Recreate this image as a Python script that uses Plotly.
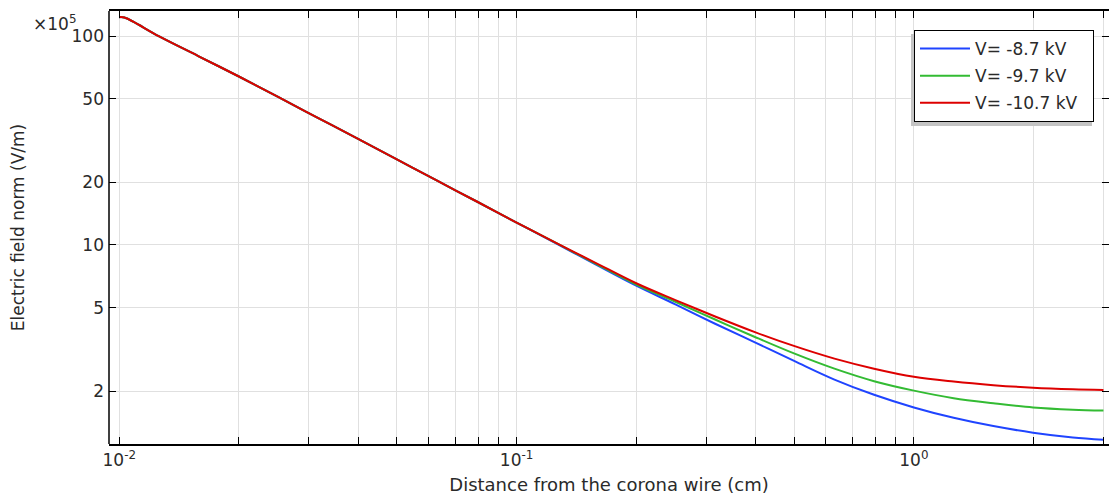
import plotly.graph_objects as go

# distance from the corona wire (cm)
distance_cm = [0.0100, 0.0103, 0.0126, 0.0158, 0.0200, 0.0251, 0.0316, 0.0398, 0.0501, 0.0631,
               0.0794, 0.100, 0.126, 0.158, 0.200, 0.251, 0.316, 0.398, 0.501, 0.631,
               0.794, 1.00, 1.259, 1.585, 1.995, 2.512, 3.00]

# electric field norm (x1e5 V/m)
e_87 = [123, 122.5, 99.6, 80.2, 64.0, 51.1, 40.6, 32.3, 25.6, 20.3,
        16.15, 12.8, 10.16, 8.08, 6.39, 5.20, 4.20, 3.42, 2.78, 2.27,
        1.92, 1.67, 1.49, 1.36, 1.265, 1.20, 1.17]
e_97 = [123, 122.5, 99.6, 80.2, 64.0, 51.1, 40.6, 32.3, 25.6, 20.3,
        16.15, 12.8, 10.2, 8.15, 6.47, 5.35, 4.40, 3.63, 3.02, 2.56,
        2.23, 2.01, 1.85, 1.75, 1.67, 1.63, 1.615]
e_107 = [123, 122.5, 99.6, 80.2, 64.0, 51.1, 40.6, 32.3, 25.6, 20.3,
         16.15, 12.8, 10.22, 8.22, 6.56, 5.45, 4.55, 3.83, 3.28, 2.86,
         2.56, 2.34, 2.22, 2.135, 2.075, 2.04, 2.025]

series_names = ["V= -8.7 kV", "V= -9.7 kV", "V= -10.7 kV"]
series_values = [e_87, e_97, e_107]
series_colors = ["#1f44ff", "#33bb33", "#dd0000"]

x_tickvals = [0.01, 0.02, 0.03, 0.04, 0.05, 0.06, 0.07, 0.08, 0.09,
              0.1, 0.2, 0.3, 0.4, 0.5, 0.6, 0.7, 0.8, 0.9, 1, 2, 3]
x_ticktext = ["10<sup>-2</sup>"] + [""] * 8 + ["10<sup>-1</sup>"] + [""] * 8 + ["10<sup>0</sup>", "", ""]
y_tickvals = [2, 5, 10, 20, 50, 100]
y_ticktext = ["2", "5", "10", "20", "50", "100"]

FONT = "DejaVu Sans"
TXT = "#2a2a2a"
fig = go.Figure()
for i, (name, vals, col) in enumerate(zip(series_names, series_values, series_colors)):
    fig.add_trace(go.Scatter(
        x=distance_cm, y=vals, name=name + "\u00a0\u00a0", mode="lines",
        line=dict(color=col, width=2, shape="spline", smoothing=1.0),
        legendgroup=f"g{i}",
    ))

fig.update_layout(
    width=1109, height=498,
    margin=dict(l=109, r=0, t=11, b=54),
    paper_bgcolor="white", plot_bgcolor="white",
    font=dict(family=FONT, size=17, color=TXT),
    showlegend=True,
    legend=dict(
        x=0.805, y=0.956, xanchor="left", yanchor="top",
        bgcolor="white", bordercolor="black", borderwidth=1,
        font=dict(family=FONT, size=17, color=TXT),
        tracegroupgap=2, itemwidth=50,
    ),
    xaxis=dict(
        type="log", range=[-2.0259, 0.4911],
        tickvals=x_tickvals, ticktext=x_ticktext,
        ticks="inside", ticklen=7, tickcolor="black", tickwidth=1,
        showline=True, linecolor="black", linewidth=1.5, mirror="ticks",
        showgrid=True, gridcolor="#e0e0e0", gridwidth=1,
        zeroline=False,
        title=dict(text="Distance from the corona wire (cm)", standoff=9,
                   font=dict(family=FONT, size=18, color=TXT)),
    ),
    yaxis=dict(
        type="log", range=[0.0478, 2.1196],
        tickvals=y_tickvals, ticktext=y_ticktext,
        ticks="inside", ticklen=7, tickcolor="black", tickwidth=1,
        showline=False, mirror="ticks",
        showgrid=True, gridcolor="#e0e0e0", gridwidth=1,
        zeroline=False, ticklabelstandoff=4,
        title=dict(text="Electric field norm (V/m)", standoff=42,
                   font=dict(family=FONT, size=17, color=TXT)),
    ),
)

# left axis line
fig.add_shape(type="line", xref="paper", yref="paper", x0=0, x1=0, y0=0, y1=1,
              line=dict(color="black", width=1.5), layer="above")

fig.add_annotation(
    text="×10<sup>5</sup>", xref="paper", yref="paper",
    x=-0.031, y=0.972, xanchor="right", yanchor="middle",
    showarrow=False, font=dict(family=FONT, size=17, color=TXT),
)

# legend shadow
fig.add_shape(type="rect", xref="paper", yref="paper",
              x0=(911 - 109) / 1000, x1=(1092 - 109) / 1000,
              y0=(444 - 126) / 433, y1=(444 - 34) / 433,
              fillcolor="#c4c4c4", line=dict(width=0), layer="above")

fig.write_html("out.html")
